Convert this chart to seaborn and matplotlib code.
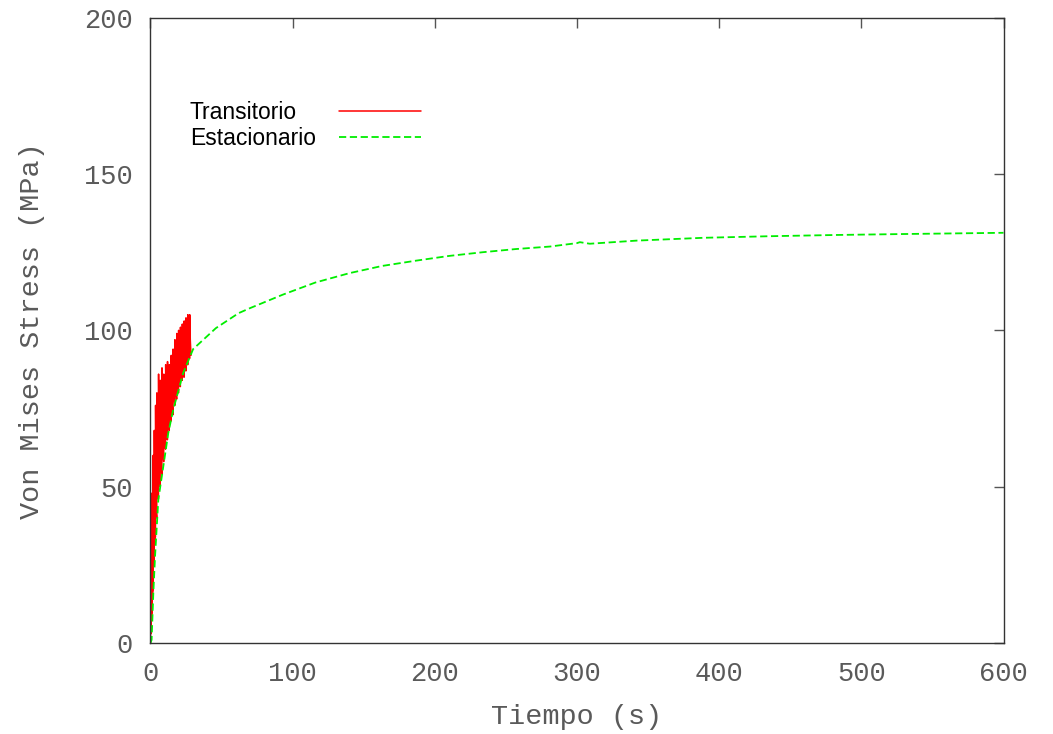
import matplotlib
matplotlib.use("Agg")
import matplotlib.pyplot as plt
import seaborn as sns
import pandas as pd

# Transient run: each load cycle sampled as trough, peak, relaxed value
transitorio_t = [0.0, 0.1, 0.3,
                 0.5, 0.6, 0.8,
                 1.1, 1.2, 1.4,
                 1.8, 1.9, 2.2,
                 2.6, 2.7, 3.0,
                 3.5, 3.6, 4.0,
                 4.4, 4.5, 4.9,
                 5.6, 5.7, 6.1,
                 6.8, 6.9, 7.3,
                 8.0, 8.1, 8.5,
                 9.3, 9.4, 9.8,
                 10.6, 10.7, 11.1,
                 11.9, 12.0, 12.4,
                 13.2, 13.3, 13.7,
                 14.5, 14.6, 15.0,
                 15.8, 15.9, 16.3,
                 17.1, 17.2, 17.6,
                 18.4, 18.5, 18.9,
                 19.7, 19.8, 20.2,
                 21.0, 21.1, 21.5,
                 22.3, 22.4, 22.8,
                 23.6, 23.7, 24.1,
                 24.9, 25.0, 25.4,
                 26.2, 26.3, 26.7,
                 27.5, 27.6, 28.0,
                 28.5]
transitorio_s = [0, 12, 3,
                 4, 38, 9,
                 10, 48, 16,
                 17, 60, 25,
                 26, 68, 33,
                 34, 76, 42,
                 40, 80, 47,
                 46, 86, 53,
                 50, 84, 58,
                 54, 88, 62,
                 58, 86, 66,
                 62, 89, 70,
                 65, 90, 73,
                 68, 89, 76,
                 71, 92, 79,
                 73, 94, 81,
                 76, 97, 84,
                 78, 99, 86,
                 80, 100, 88,
                 82, 101, 90,
                 84, 102, 92,
                 85, 103, 93,
                 87, 104, 95,
                 89, 105, 96,
                 91, 105, 97,
                 92]

# Steady-state run
estacionario_t = [0, 0.8, 2, 3.2, 5.5, 9, 12.5, 16, 23, 30, 46, 62, 70, 93,
                  116, 140, 163, 187, 210, 234, 257, 281, 300, 302, 309,
                  342, 389, 435, 482, 529, 600]
estacionario_s = [0, 1, 16, 27.6, 45.8, 56.4, 67.1, 74.6, 86.3, 94, 100.7,
                  105.5, 107.1, 111.4, 115.3, 118.3, 120.6, 122.3, 123.8,
                  125, 126, 126.8, 127.9, 128.2, 127.7, 128.7, 129.6, 130.1,
                  130.5, 130.8, 131.2]

x_ticks = [0, 100, 200, 300, 400, 500, 600]
y_ticks = [0, 50, 100, 150, 200]

sns.set_style("white")
plt.rcParams["font.family"] = ["Liberation Mono", "DejaVu Sans Mono"]

fig = plt.figure(figsize=(10.53, 7.34), dpi=100)
ax = fig.add_axes([0.1429, 0.124, 0.953 - 0.1429, 0.9759 - 0.124])

df_tr = pd.DataFrame({"t": transitorio_t, "s": transitorio_s})
df_es = pd.DataFrame({"t": estacionario_t, "s": estacionario_s})

sns.lineplot(data=df_tr, x="t", y="s", ax=ax, color="#ff0000", lw=1.1,
             sort=False, estimator=None, label="Transitorio")
sns.lineplot(data=df_es, x="t", y="s", ax=ax, color="#00ee00", lw=1.3,
             sort=False, estimator=None, label="Estacionario",
             linestyle=(0, (4, 2)))

ax.set_xlim(0, 600)
ax.set_ylim(0, 200)
ax.set_xticks(x_ticks)
ax.set_yticks(y_ticks)

tick_color = "#5a5a5a"
ax.tick_params(axis="both", which="both", direction="in", length=7,
               width=1.0, color="#555555", top=True, right=True,
               labelsize=19.5, labelcolor=tick_color, pad=13)
for sp in ax.spines.values():
    sp.set_color("#333333")
    sp.set_linewidth(1.0)

ax.set_xlabel("Tiempo (s)", fontsize=20.5, color=tick_color, labelpad=12)
ax.set_ylabel("Von Mises Stress (MPa)", fontsize=20.5, color=tick_color,
              labelpad=28)

leg = ax.legend(loc="upper left", bbox_to_anchor=(0.0463, 0.866),
                frameon=False, markerfirst=False, handlelength=3.6,
                handletextpad=1.0, labelspacing=0.12, borderpad=0,
                borderaxespad=0,
                prop={"family": "Liberation Sans", "size": 16.5})
for txt in leg.get_texts():
    txt.set_color("black")

# Keep the legend labels left-aligned with the keys in a common column
fig.canvas.draw()
renderer = fig.canvas.get_renderer()
widths = [t.get_window_extent(renderer).width for t in leg.get_texts()]
wmax = max(widths)
column = leg._legend_handle_box.get_children()[0]
for row, w in zip(column.get_children(), widths):
    row.sep = row.sep + (wmax - w) * 72.0 / fig.dpi

fig.savefig("out.png", dpi=100)
